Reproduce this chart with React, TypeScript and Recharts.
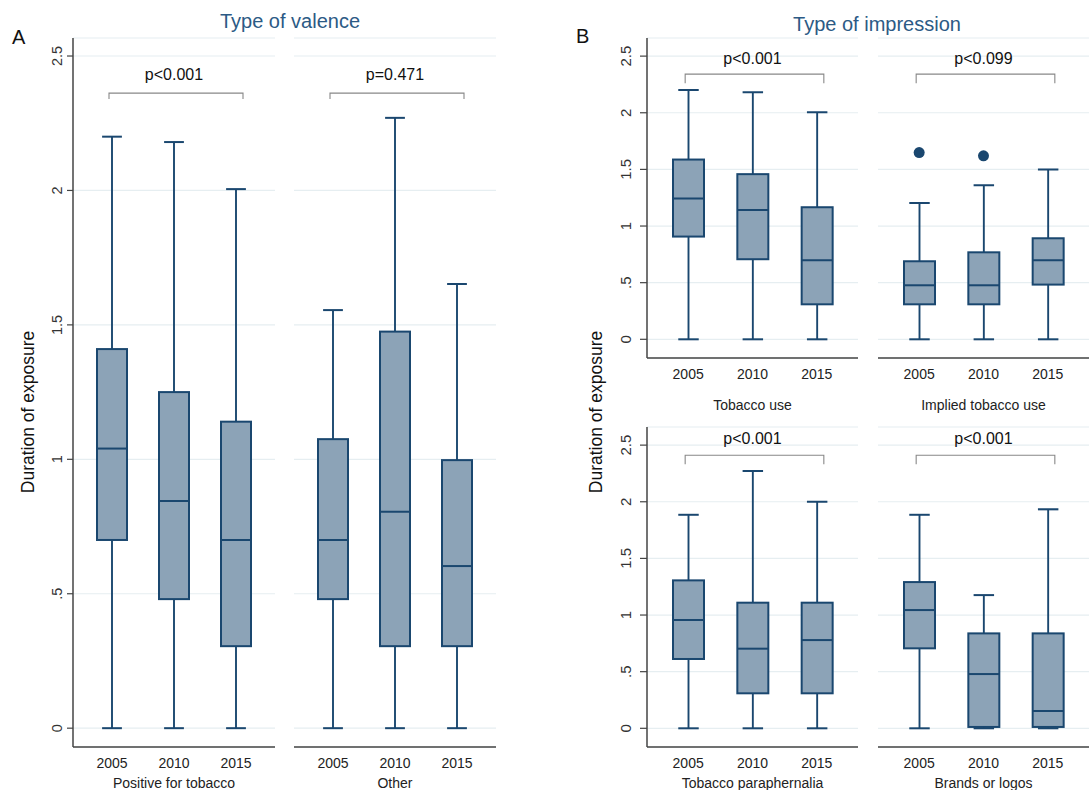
import React from "react";
import {
  ComposedChart,
  Bar,
  Scatter,
  XAxis,
  YAxis,
  CartesianGrid,
  ReferenceLine,
} from "recharts";

const years = ["2005", "2010", "2015"];
const yTicks = [0, 0.5, 1, 1.5, 2, 2.5];
const yTickLabels = ["0", ".5", "1", "1.5", "2", "2.5"];

// each row: [min, q1, median, q3, max] for 2005, 2010, 2015
const positiveForTobacco = [
  [0, 0.7, 1.04, 1.41, 2.2],
  [0, 0.48, 0.845, 1.25, 2.18],
  [0, 0.305, 0.7, 1.14, 2.005],
];
const otherValence = [
  [0, 0.48, 0.7, 1.075, 1.555],
  [0, 0.305, 0.805, 1.475, 2.27],
  [0, 0.305, 0.603, 0.997, 1.652],
];
const tobaccoUse = [
  [0, 0.907, 1.243, 1.587, 2.2],
  [0, 0.707, 1.142, 1.458, 2.18],
  [0, 0.309, 0.698, 1.166, 2.005],
];
const impliedTobaccoUse = [
  [0, 0.309, 0.477, 0.689, 1.204],
  [0, 0.309, 0.477, 0.768, 1.36],
  [0, 0.483, 0.698, 0.892, 1.5],
];
const impliedOutliers = [1.649, 1.62, null];
const paraphernalia = [
  [0, 0.612, 0.956, 1.306, 1.885],
  [0, 0.309, 0.703, 1.109, 2.271],
  [0, 0.309, 0.779, 1.109, 2.0],
];
const brandsOrLogos = [
  [0, 0.706, 1.044, 1.291, 1.885],
  [0, 0.012, 0.479, 0.838, 1.176],
  [0, 0.012, 0.153, 0.838, 1.933],
];

const NAVY = "#1a476f";
const FILL = "#8ca3b7";
const AXIS = "#444";
const FONT = "'Liberation Sans', Arial, sans-serif";

const toRows = (stats: number[][], outliers?: (number | null)[]) =>
  years.map((year, i) => ({
    year,
    range: [stats[i][0], stats[i][4]],
    q1: stats[i][1],
    median: stats[i][2],
    q3: stats[i][3],
    outlier: outliers ? outliers[i] : null,
  }));

const BoxShape = (props: any) => {
  const { x, y, width, height, payload } = props;
  const top = Math.min(y, y + height);
  const bottom = Math.max(y, y + height);
  const [lo, hi] = payload.range;
  const py = (v: number) => bottom - ((v - lo) / (hi - lo)) * (bottom - top);
  const cx = x + width / 2;
  const cap = width * 0.33;
  return (
    <g>
      <line x1={cx} x2={cx} y1={py(hi)} y2={py(payload.q3)} stroke={NAVY} strokeWidth={1.9} />
      <line x1={cx} x2={cx} y1={py(payload.q1)} y2={py(lo)} stroke={NAVY} strokeWidth={1.9} />
      <line x1={cx - cap} x2={cx + cap} y1={py(hi)} y2={py(hi)} stroke={NAVY} strokeWidth={2} />
      <line x1={cx - cap} x2={cx + cap} y1={py(lo)} y2={py(lo)} stroke={NAVY} strokeWidth={2} />
      <rect
        x={x}
        y={py(payload.q3)}
        width={width}
        height={py(payload.q1) - py(payload.q3)}
        fill={FILL}
        stroke={NAVY}
        strokeWidth={2}
      />
      <line x1={x} x2={x + width} y1={py(payload.median)} y2={py(payload.median)} stroke={NAVY} strokeWidth={2} />
    </g>
  );
};

const Outlier = (props: any) => {
  if (props.payload == null || props.payload.outlier == null) return <g />;
  return <circle cx={props.cx} cy={props.cy} r={5.5} fill={NAVY} />;
};

const YTick = (props: any) => {
  const { x, y, payload, gap, size } = props;
  const bx = x - gap;
  const label = yTickLabels[yTicks.indexOf(payload.value)];
  return (
    <text x={bx} y={y} transform={`rotate(-90 ${bx} ${y})`} textAnchor="middle" fontSize={size} fill="#333">
      {label}
    </text>
  );
};

const YLabel = (props: any) => {
  const { viewBox, dx, dy } = props;
  const cx = viewBox.x + dx;
  const cy = viewBox.y + viewBox.height / 2 + dy;
  return (
    <text x={cx} y={cy} transform={`rotate(-90 ${cx} ${cy})`} textAnchor="middle" fontSize={17.5} fill="#111">
      Duration of exposure
    </text>
  );
};

const Bracket = (props: any) => {
  const { x1, y1, x2, drop } = props;
  return (
    <path
      d={`M${x1 - 3},${y1 + drop}V${y1}H${x2 + 7}V${y1 + drop}`}
      fill="none"
      stroke="#888"
      strokeWidth={1.1}
    />
  );
};

type PanelProps = {
  rows: any[];
  left: number;
  top: number;
  width: number;
  height: number;
  xHeight: number;
  yWidth: number;
  domain: [number, number];
  xPad: number;
  barSize: number;
  xLabel: string;
  xLabelOffset: number;
  pValue: string;
  bracketY: number;
  pOffset: number;
  drop: number;
  tickSize: number;
  tickGap: number;
  tickFont: number;
  yLabel?: boolean;
};

const Panel = (p: PanelProps) => (
  <div style={{ position: "absolute", left: p.left, top: p.top }}>
    <ComposedChart
      width={p.width}
      height={p.height}
      data={p.rows}
      margin={{ top: 38, right: 0, bottom: 0, left: 0 }}
    >
      <CartesianGrid vertical={false} stroke="#e6eef1" strokeWidth={1.2} />
      <XAxis
        dataKey="year"
        type="category"
        height={p.xHeight}
        padding={{ left: p.xPad, right: p.xPad }}
        tickLine={false}
        tickSize={6}
        tickMargin={5}
        axisLine={{ stroke: AXIS, strokeWidth: 1.5 }}
        tick={{ fontSize: 14, fill: "#222" }}
        label={{ value: p.xLabel, position: "insideBottom", offset: p.xLabelOffset, fontSize: 14, fill: "#222" }}
      />
      <YAxis
        type="number"
        domain={p.domain}
        ticks={yTicks}
        allowDataOverflow
        hide={p.yWidth === 0}
        width={p.yWidth}
        tickSize={p.tickSize}
        tickLine={{ stroke: AXIS, strokeWidth: 1.2 }}
        axisLine={{ stroke: AXIS, strokeWidth: 1.5 }}
        tick={<YTick gap={p.tickGap} size={p.tickFont} />}
        label={p.yLabel ? <YLabel dx={34} dy={19.5} /> : undefined}
      />
      <Bar dataKey="range" barSize={p.barSize} shape={BoxShape} isAnimationActive={false} />
      <Scatter dataKey="outlier" shape={Outlier} isAnimationActive={false} />
      <ReferenceLine
        segment={[
          { x: years[0], y: p.bracketY },
          { x: years[2], y: p.bracketY },
        ]}
        ifOverflow="visible"
        shape={(sp: any) => <Bracket {...sp} drop={p.drop} />}
        label={{ value: p.pValue, position: "top", offset: p.pOffset, fontSize: 16, fill: "#111" }}
      />
    </ComposedChart>
  </div>
);

const domainA: [number, number] = [-0.07, 2.567];
const domainB: [number, number] = [-0.165, 2.66];

export default function App() {
  const aCommon = {
    top: 0,
    height: 790,
    xHeight: 43,
    domain: domainA,
    xPad: 8,
    barSize: 30,
    xLabelOffset: 2,
    bracketY: 2.362,
    pOffset: 13,
    drop: 6,
    tickSize: 6,
    tickGap: 3,
    tickFont: 14.5,
  };
  const bCommon = {
    domain: domainB,
    xPad: 9,
    barSize: 31,
    pOffset: 10,
    drop: 9,
    tickSize: 7,
    tickGap: 7,
    tickFont: 15,
  };
  return (
    <div
      style={{
        position: "absolute",
        left: 0,
        top: 0,
        width: 1090,
        height: 790,
        background: "#fff",
        fontFamily: FONT,
      }}
    >
      <Panel
        {...aCommon}
        rows={toRows(positiveForTobacco)}
        left={0}
        width={275}
        yWidth={73}
        xLabel="Positive for tobacco"
        pValue="p<0.001"
        yLabel
      />
      <Panel {...aCommon} rows={toRows(otherValence)} left={294} width={202} yWidth={0} xLabel="Other" pValue="p=0.471" />
      <Panel
        {...bCommon}
        rows={toRows(tobaccoUse)}
        left={574}
        top={0}
        width={284}
        height={415}
        xHeight={57}
        yWidth={73}
        xLabel="Tobacco use"
        xLabelOffset={5}
        pValue="p<0.001"
        bracketY={2.341}
      />
      <Panel
        {...bCommon}
        rows={toRows(impliedTobaccoUse, impliedOutliers)}
        left={878}
        top={0}
        width={211}
        height={415}
        xHeight={57}
        yWidth={0}
        xLabel="Implied tobacco use"
        xLabelOffset={5}
        pValue="p<0.099"
        bracketY={2.341}
      />
      <Panel
        {...bCommon}
        rows={toRows(paraphernalia)}
        left={574}
        top={389}
        width={284}
        height={401}
        xHeight={43}
        yWidth={73}
        xLabel="Tobacco paraphernalia"
        xLabelOffset={2}
        pValue="p<0.001"
        bracketY={2.41}
        pOffset={11}
      />
      <Panel
        {...bCommon}
        rows={toRows(brandsOrLogos)}
        left={878}
        top={389}
        width={211}
        height={401}
        xHeight={43}
        yWidth={0}
        xLabel="Brands or logos"
        xLabelOffset={2}
        pValue="p<0.001"
        bracketY={2.41}
        pOffset={11}
      />
      <svg
        width={1090}
        height={790}
        style={{ position: "absolute", left: 0, top: 0, pointerEvents: "none" }}
      >
        <text x={290} y={28} textAnchor="middle" fontSize={20} fill="#2c5a85">
          Type of valence
        </text>
        <text x={877} y={31} textAnchor="middle" fontSize={20} fill="#2c5a85">
          Type of impression
        </text>
        <text x={12} y={44} fontSize={20} fill="#111">
          A
        </text>
        <text x={576} y={43} fontSize={20} fill="#111">
          B
        </text>
        <text x={602} y={412} transform="rotate(-90 602 412)" textAnchor="middle" fontSize={17.5} fill="#111">
          Duration of exposure
        </text>
      </svg>
    </div>
  );
}
